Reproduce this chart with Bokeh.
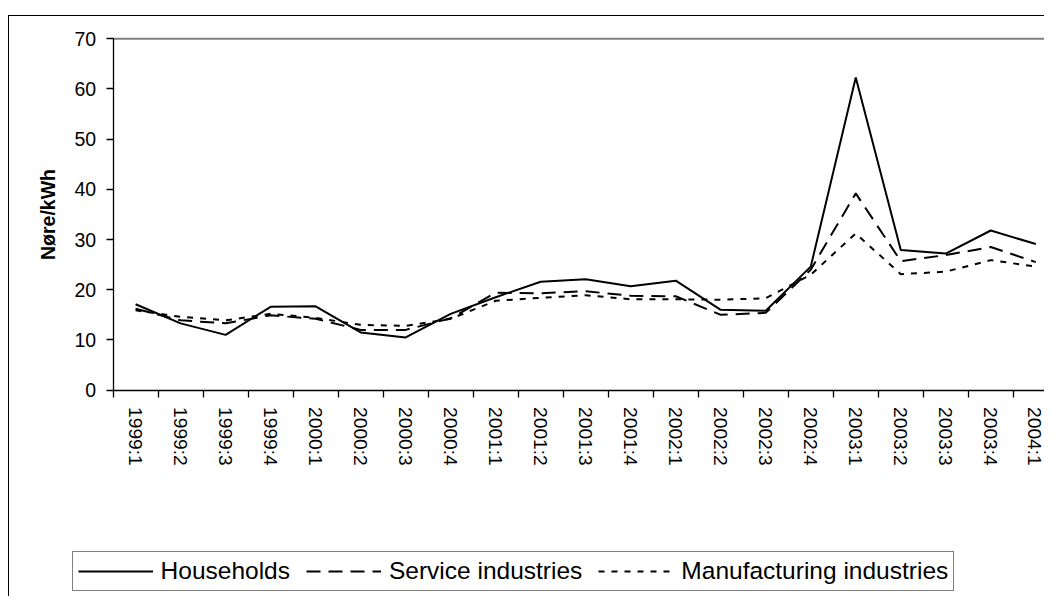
import math
from bokeh.plotting import figure
from bokeh.models import FixedTicker, Legend, LegendItem, Range1d, ColumnDataSource
from bokeh.embed import file_html
from bokeh.resources import INLINE

quarters = ["1999:1", "1999:2", "1999:3", "1999:4",
            "2000:1", "2000:2", "2000:3", "2000:4",
            "2001:1", "2001:2", "2001:3", "2001:4",
            "2002:1", "2002:2", "2002:3", "2002:4",
            "2003:1", "2003:2", "2003:3", "2003:4",
            "2004:1"]
households = [17.1, 13.3, 11.0, 16.6, 16.7, 11.5, 10.5, 15.2,
              18.5, 21.6, 22.1, 20.7, 21.8, 16.0, 15.8, 24.6,
              62.3, 27.9, 27.2, 31.8, 29.1]
service = [16.2, 13.9, 13.3, 14.9, 14.2, 12.0, 12.0, 14.3,
           19.4, 19.3, 19.7, 18.8, 18.7, 15.0, 15.4, 24.0,
           39.2, 25.7, 26.9, 28.5, 25.5]
manufacturing = [15.9, 14.6, 13.9, 15.2, 14.4, 13.0, 12.8, 14.2,
                 17.8, 18.4, 18.9, 18.1, 18.1, 18.0, 18.3, 23.0,
                 31.2, 23.1, 23.6, 25.9, 24.6]
y_ticks = [0, 10, 20, 30, 40, 50, 60, 70]
series_names = ["Households", "Service industries", "Manufacturing industries"]

FONT = "Liberation Sans"
DASHES = ["solid", "14 8", "6 7"]
n = len(quarters)
idx = list(range(n))
y_lo, y_hi = y_ticks[0], y_ticks[-1]
src = ColumnDataSource(dict(x=idx, households=households, service=service,
                            manufacturing=manufacturing))

# canvas 1036 x 581; the frame fills the canvas, axes are pinned inside it
W, H = 1036, 581
px_cat = 45.01                     # pixels per category
x0_px = 112.6 - 9                  # left edge of plot area inside canvas
px_val = 351.3 / 70.0              # pixels per unit
top_px, zero_px = 38.3 - 16, 389.6 - 16
x_start = -0.5 - x0_px / px_cat
x_end = -0.5 + (W - x0_px) / px_cat
y_end = y_hi + top_px / px_val
y_start = -(H - zero_px) / px_val

p = figure(width=W, height=H, output_backend="svg", toolbar_location=None,
           x_range=Range1d(x_start, x_end), y_range=Range1d(y_start, y_end),
           min_border=0)
p.margin = (15, 0, 0, 8)
p.styles = {"border-left": "1px solid black", "border-top": "1px solid black"}
p.background_fill_color = "white"
p.border_fill_color = "white"
p.outline_line_color = None
p.xgrid.visible = False
p.ygrid.visible = False

# grey top border of the plot area
p.segment(x0=[-0.5], x1=[n - 0.5], y0=[y_hi], y1=[y_hi],
          line_color="#808080", line_width=2)

# y axis
yax = p.yaxis[0]
yax.fixed_location = -0.5
yax.bounds = (y_lo, y_hi)
yax.ticker = FixedTicker(ticks=y_ticks)
yax.major_tick_out = 7
yax.major_tick_in = 0
yax.minor_tick_line_color = None
yax.axis_line_color = "black"
yax.axis_line_width = 1.3
yax.major_tick_line_width = 1.3
yax.major_label_text_font = FONT
yax.major_label_text_font_size = "19.5px"
yax.major_label_text_color = "black"
yax.major_label_standoff = 10
yax.axis_label = "Nøre/kWh"
yax.axis_label_text_font = FONT
yax.axis_label_text_font_style = "bold"
yax.axis_label_text_font_size = "19.5px"
yax.axis_label_text_color = "black"
yax.axis_label_standoff = 13

# x axis: labels at category centres, tick marks at category boundaries
xax = p.xaxis[0]
xax.fixed_location = y_lo
xax.bounds = (-0.5, n - 0.5)
xax.ticker = FixedTicker(ticks=idx, minor_ticks=[i - 0.5 for i in range(n + 1)])
xax.major_label_overrides = {i: q for i, q in enumerate(quarters)}
xax.major_tick_out = 0
xax.major_tick_in = 0
xax.minor_tick_out = 7
xax.minor_tick_in = 0
xax.minor_tick_line_color = "black"
xax.minor_tick_line_width = 1.3
xax.axis_line_color = "black"
xax.axis_line_width = 1.3
xax.major_label_orientation = -math.pi / 2
xax.major_label_text_font = FONT
xax.major_label_text_font_size = "19.2px"
xax.major_label_text_color = "black"
xax.major_label_standoff = 10

renderers = []
for col, dash in zip(["households", "service", "manufacturing"], DASHES):
    renderers.append(p.line("x", col, source=src, line_color="black",
                            line_width=2, line_dash=dash))

legend = Legend(items=[LegendItem(label=nm, renderers=[r])
                       for nm, r in zip(series_names, renderers)],
                orientation="horizontal", location=(62.6, 6.4), margin=0,
                padding=5, spacing=16, label_standoff=8,
                glyph_width=75, glyph_height=20,
                label_text_font=FONT, label_text_font_size="24.5px",
                label_text_color="black",
                border_line_color="black", border_line_width=1,
                background_fill_color="white", background_fill_alpha=1)
p.add_layout(legend, "center")

open("out.html", "w").write(file_html(p, INLINE))
